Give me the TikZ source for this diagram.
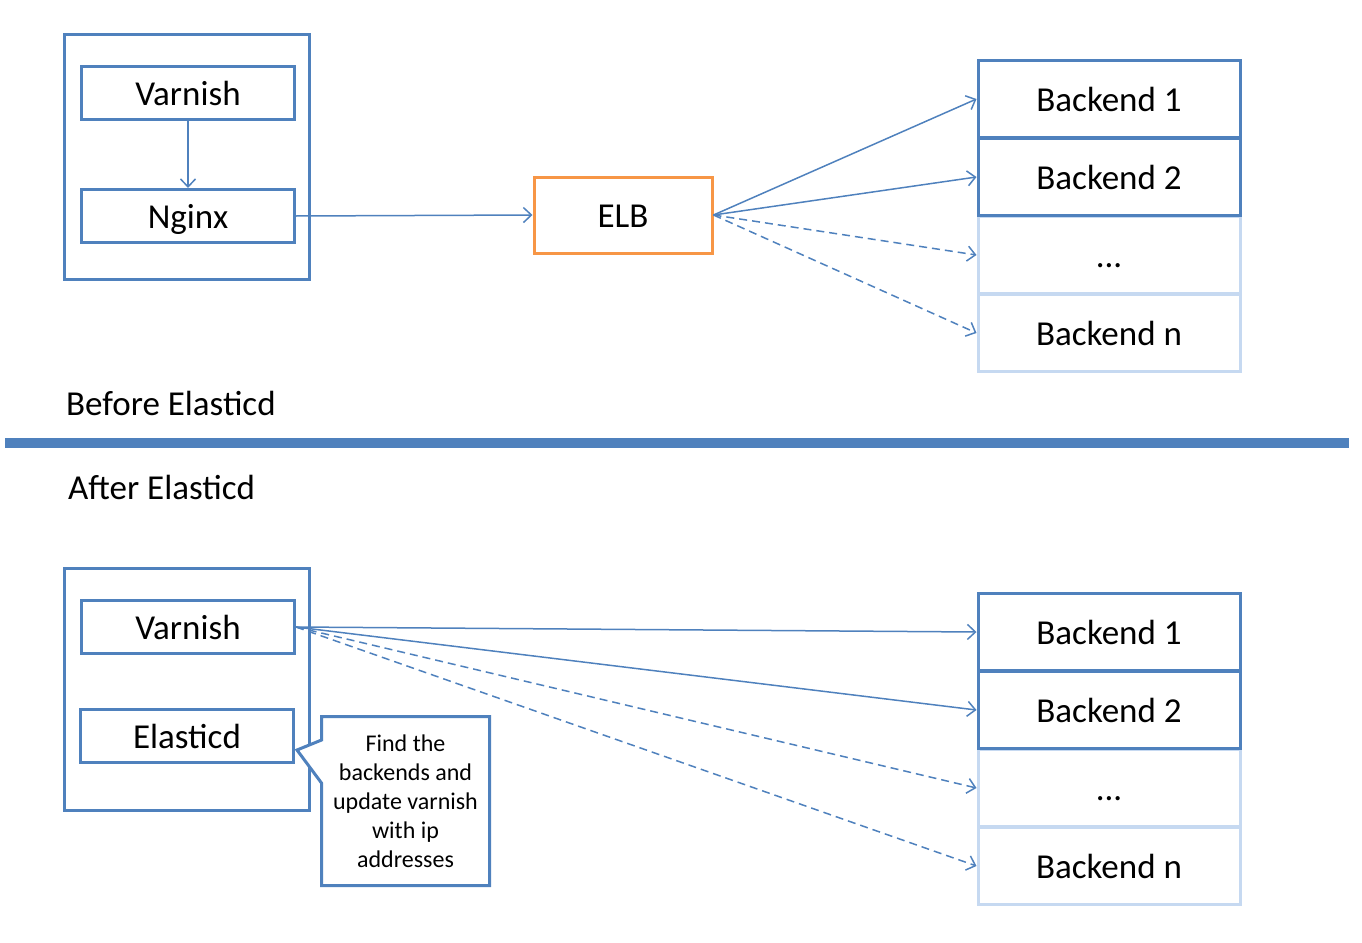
\documentclass[tikz,border=0pt]{standalone}
\usepackage{fontspec}
\setmainfont{Carlito}
\usetikzlibrary{arrows.meta,shapes.callouts}
\definecolor{boxblue}{HTML}{4F81BD}
\definecolor{paleblue}{HTML}{C6D9F1}
\definecolor{elborange}{HTML}{F79646}
\tikzset{
  bigtext/.style={font=\fontsize{35}{42}\selectfont},
  group/.style={draw=boxblue, line width=3pt, minimum width=245pt, inner sep=0pt},
  box/.style={bigtext, draw=boxblue, line width=3pt, minimum width=213pt, minimum height=53pt,
    inner sep=0pt, text height=25pt, text depth=0pt},
  lbbox/.style={box, draw=elborange, minimum width=178pt, minimum height=76pt},
  backend/.style={box, fill=white, minimum width=262pt, minimum height=77pt},
  spare/.style={backend, draw=paleblue},
  link/.style={draw=boxblue, line width=1.5pt, -{Straight Barb[length=8pt,width=15pt,line width=1.5pt]}},
  maybe/.style={link, dash pattern=on 8pt off 5pt}
}
\begin{document}
\begin{tikzpicture}[x=1pt,y=-1pt]
  \useasboundingbox (0,0) rectangle (1362,942);
  % before
  \node[group, minimum height=245pt] (oldhost) at (187,157) {};
  \node[box] (oldvarnish) at (188,93) {Varnish};
  \node[box] (nginx) at (188,216) {Nginx};
  \node[lbbox] (elb) at (623,215) {ELB};
  \node[spare] (olddots) at (1109,255) {...};
  \node[spare] (oldn) at (1109,333) {Backend n};
  \node[backend] (oldone) at (1109,99) {Backend 1};
  \node[backend] (oldtwo) at (1109,177) {Backend 2};
  \draw[link] (oldvarnish) -- (nginx);
  \draw[link] (nginx.east) -- (elb.west);
  \draw[link] (elb.east) -- (oldone.west);
  \draw[link] (elb.east) -- (oldtwo.west);
  \draw[maybe] (elb.east) -- (olddots.west);
  \draw[maybe] (elb.east) -- (oldn.west);
  \node[bigtext, anchor=base west, inner sep=0pt] (before) at (66,415) {Before Elasticd};
  % separator
  \draw[boxblue, line width=10pt] (5,443) -- (1349,443);
  \node[bigtext, anchor=base west, inner sep=0pt] (after) at (68,499) {After Elasticd};
  % after
  \node[group, minimum height=242pt] (newhost) at (187,689.5) {};
  \node[box] (newvarnish) at (188,627) {Varnish};
  \node[box] (elasticd) at (187,736) {Elasticd};
  \node[spare] (newdots) at (1109,788) {...};
  \node[spare] (newn) at (1109,866) {Backend n};
  \node[backend] (newone) at (1109,632) {Backend 1};
  \node[backend] (newtwo) at (1109,710) {Backend 2};
  \draw[link] (newvarnish.east) -- (newone.west);
  \draw[link] (newvarnish.east) -- (newtwo.west);
  \draw[maybe] (newvarnish.east) -- (newdots.west);
  \draw[maybe] (newvarnish.east) -- (newn.west);
  \node[rectangle callout, draw=boxblue, line width=3pt, fill=white,
    minimum width=168pt, minimum height=169pt, inner sep=0pt, align=center,
    font=\fontsize{24}{29}\selectfont,
    callout absolute pointer={(297,750)}, callout pointer width=43pt] (note) at (405.5,801)
    {Find the\\backends and\\update varnish\\with ip\\addresses};
\end{tikzpicture}
\end{document}
